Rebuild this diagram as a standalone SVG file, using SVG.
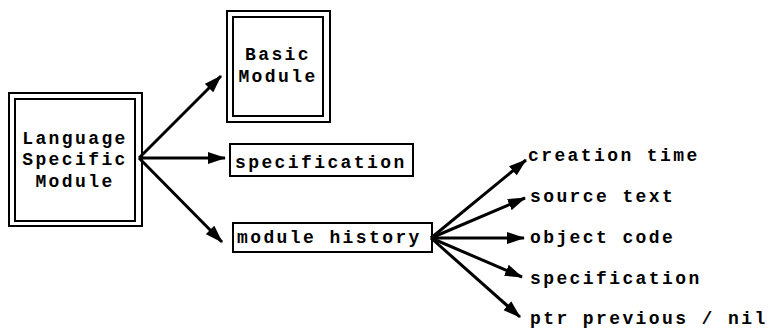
<svg xmlns="http://www.w3.org/2000/svg" width="770" height="331" viewBox="0 0 770 331">
<style>
  .box { fill: none; stroke: #000; stroke-width: 2; }
  .lbl { font-family: "Liberation Mono", "DejaVu Sans Mono", monospace; font-size: 18px; letter-spacing: 2.4px; font-weight: bold; fill: #000; }
  .mid { text-anchor: middle; }
  .conn { stroke: #000; stroke-width: 3; fill: none; marker-end: url(#ah); }
</style>
<defs>
  <marker id="ah" viewBox="0 0 18 12" refX="17" refY="6" markerWidth="18" markerHeight="12" markerUnits="userSpaceOnUse" orient="auto">
    <path d="M0,0 L18,6 L0,12 z" fill="#000"/>
  </marker>
</defs>
<rect width="770" height="331" fill="#fff"/>

<g id="language-specific-module">
  <rect class="box" x="9" y="93" width="133" height="133"/>
  <rect class="box" x="15" y="99" width="120" height="122"/>
  <text class="lbl mid" x="75" y="144">Language</text>
  <text class="lbl mid" x="75" y="165">Specific</text>
  <text class="lbl mid" x="75" y="187">Module</text>
</g>

<g id="basic-module">
  <rect class="box" x="227" y="11" width="103" height="111"/>
  <rect class="box" x="233" y="17" width="90" height="99"/>
  <text class="lbl mid" x="278" y="60">Basic</text>
  <text class="lbl mid" x="278" y="82">Module</text>
</g>

<g id="specification">
  <rect class="box" x="230" y="144" width="183" height="32"/>
  <text class="lbl" x="235" y="168">specification</text>
</g>

<g id="module-history">
  <rect class="box" x="233" y="223" width="199" height="29"/>
  <text class="lbl" x="237" y="243">module history</text>
</g>

<g id="creation-time"><text class="lbl" x="528" y="161">creation time</text></g>
<g id="source-text"><text class="lbl" x="530" y="202">source text</text></g>
<g id="object-code"><text class="lbl" x="530" y="243">object code</text></g>
<g id="history-specification"><text class="lbl" x="530" y="284">specification</text></g>
<g id="ptr-previous"><text class="lbl" x="530" y="324">ptr previous / nil</text></g>

<g id="connectors">
  <line class="conn" x1="139" y1="158" x2="221" y2="76"/>
  <line class="conn" x1="139" y1="158" x2="225" y2="158"/>
  <line class="conn" x1="139" y1="158" x2="222" y2="242"/>
  <line class="conn" x1="431" y1="238" x2="526" y2="160"/>
  <line class="conn" x1="431" y1="238" x2="525" y2="198"/>
  <line class="conn" x1="431" y1="238" x2="524" y2="238"/>
  <line class="conn" x1="431" y1="238" x2="522" y2="277"/>
  <line class="conn" x1="431" y1="238" x2="520" y2="317"/>
</g>
</svg>
